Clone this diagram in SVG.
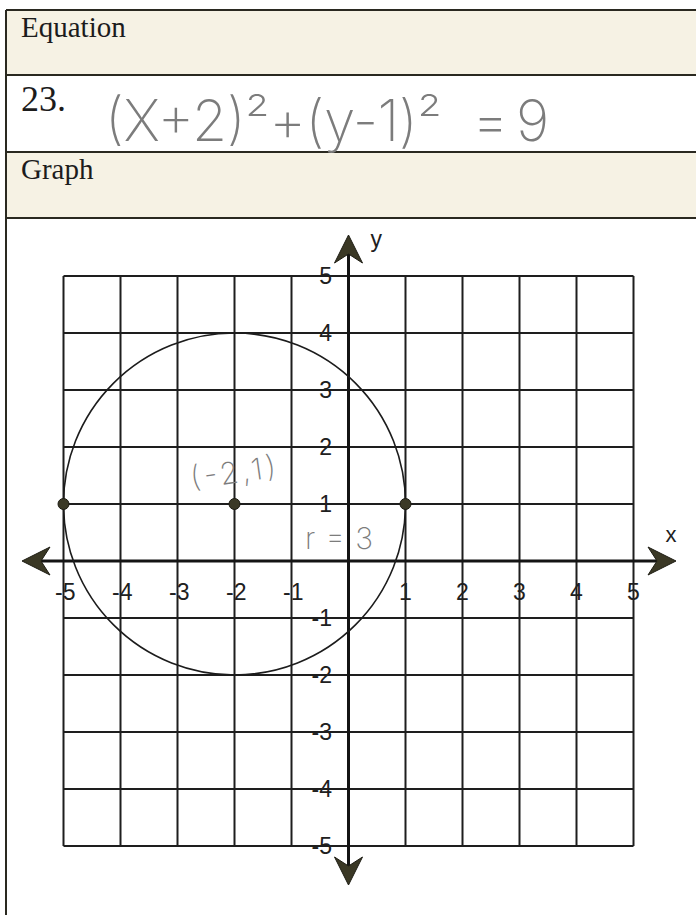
<svg xmlns="http://www.w3.org/2000/svg" width="696" height="915" viewBox="0 0 696 915">
<style>
.rule{stroke:#2a2920;stroke-width:2;fill:none}
.band{fill:#f6f2e4}
.head{font-family:"Liberation Serif","Times New Roman",serif;fill:#1c1c1c}
.grid{stroke:#1e1e1e;stroke-width:2;fill:none}
.axis{stroke:#141414;stroke-width:3;fill:none}
.num{font-family:"Liberation Sans",Arial,sans-serif;font-size:23px;fill:#202020}
.hand{font-family:"Inter","DejaVu Sans",sans-serif;font-weight:200;fill:#7c7c7c}
.dot{fill:#3b3926;stroke:#1e1d14;stroke-width:1}
</style>
<defs>
<marker id="arrow" viewBox="-16 -15 30 30" refX="0" refY="0" markerWidth="30" markerHeight="30" markerUnits="userSpaceOnUse" orient="auto-start-reverse">
<path d="M13,0 L-15,-14 L-6,0 L-15,14 Z" fill="#3a3825" stroke="#1e1d14" stroke-width="1"/>
</marker>
</defs>
<rect width="696" height="915" fill="#ffffff"/>
<g id="header">
<rect class="band" x="6" y="10" width="690" height="65"/>
<rect class="band" x="6" y="152" width="690" height="66"/>
<path class="rule" d="M6,10 H696 M6,75 H696 M6,152 H696 M6,218 H696 M6,10 V915"/>
<text class="head" x="21" y="37" font-size="29">Equation</text>
<text class="head" x="21" y="111" font-size="36">23.</text>
<text class="head" x="21" y="179" font-size="29">Graph</text>
<text class="hand" x="105" y="141" font-size="57" textLength="337" lengthAdjust="spacing">(X+2)²+(y-1)²</text>
<text class="hand" x="472" y="141" font-size="57">=</text>
<text class="hand" x="516" y="141" font-size="57">9</text>
</g>
<g id="grid">
<path class="grid" d="M63.5,276 V846 M120.5,276 V846 M177.5,276 V846 M234.5,276 V846 M291.5,276 V846 M405.5,276 V846 M462.5,276 V846 M519.5,276 V846 M576.5,276 V846 M633.5,276 V846 M63.5,276 H633.5 M63.5,333 H633.5 M63.5,390 H633.5 M63.5,447 H633.5 M63.5,504 H633.5 M63.5,618 H633.5 M63.5,675 H633.5 M63.5,732 H633.5 M63.5,789 H633.5 M63.5,846 H633.5"/>
</g>
<g id="connectors">
<line class="axis" x1="35" y1="561" x2="663" y2="561" marker-start="url(#arrow)" marker-end="url(#arrow)"/>
<line class="axis" x1="348.5" y1="248" x2="348.5" y2="872" marker-start="url(#arrow)" marker-end="url(#arrow)"/>
</g>
<g id="circle">
<circle cx="234.5" cy="504" r="171" fill="none" stroke="#1c1c1c" stroke-width="1.6"/>
</g>
<g id="points">
<circle class="dot" cx="63.5" cy="504" r="5.5"/>
<circle class="dot" cx="234.5" cy="504" r="5.5"/>
<circle class="dot" cx="405.5" cy="504" r="5.5"/>
</g>
<g id="x-labels" class="num">
<text x="75.5" y="600" text-anchor="end">-5</text>
<text x="132.5" y="600" text-anchor="end">-4</text>
<text x="189.5" y="600" text-anchor="end">-3</text>
<text x="246.5" y="600" text-anchor="end">-2</text>
<text x="303.5" y="600" text-anchor="end">-1</text>
<text x="405.5" y="600" text-anchor="middle">1</text>
<text x="462.5" y="600" text-anchor="middle">2</text>
<text x="519.5" y="600" text-anchor="middle">3</text>
<text x="576.5" y="600" text-anchor="middle">4</text>
<text x="633.5" y="600" text-anchor="middle">5</text>
<text x="671" y="542" text-anchor="middle" font-size="22">x</text>
</g>
<g id="y-labels" class="num" text-anchor="end">
<text x="332" y="284">5</text>
<text x="332" y="341">4</text>
<text x="332" y="398">3</text>
<text x="332" y="455">2</text>
<text x="332" y="512">1</text>
<text x="332" y="626">-1</text>
<text x="332" y="683">-2</text>
<text x="332" y="740">-3</text>
<text x="332" y="797">-4</text>
<text x="332" y="854">-5</text>
<text x="382" y="247" font-size="23">y</text>
</g>
<g id="annotations">
<text class="hand" x="192" y="489" font-size="30" textLength="86" lengthAdjust="spacing" transform="rotate(-8 192 489)">(-2,1)</text>
<text class="hand" x="305" y="549" font-size="30" textLength="68" lengthAdjust="spacing">r = 3</text>
</g>
</svg>
